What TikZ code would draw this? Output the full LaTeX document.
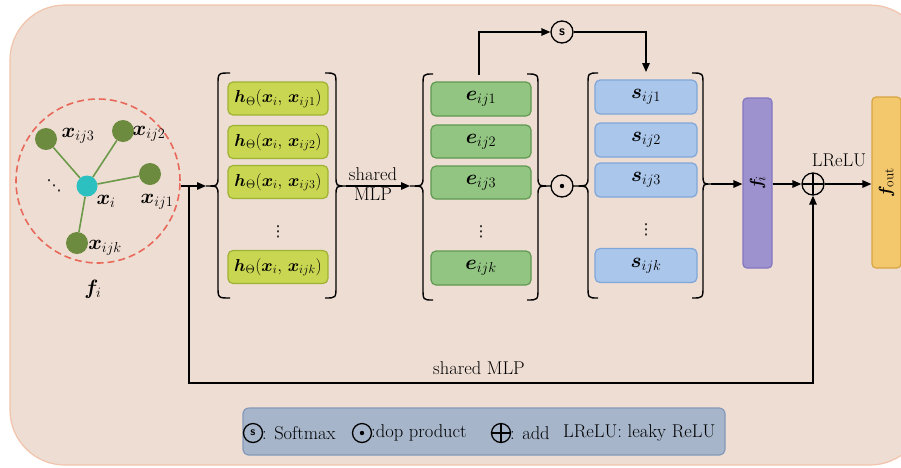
\documentclass[tikz,border=0pt]{standalone}
\usepackage{amsmath,bm,graphicx}
\usepackage{fontspec}
\newfontfamily\djv{DejaVu Sans}
\usetikzlibrary{arrows.meta,calc}
\definecolor{bgc}{HTML}{EEDDD3}
\definecolor{bgb}{HTML}{F2C4AC}
\definecolor{hfill}{HTML}{C8D651}
\definecolor{hdraw}{HTML}{A0B234}
\definecolor{efill}{HTML}{92C482}
\definecolor{edraw}{HTML}{5F9A50}
\definecolor{sfill}{HTML}{AAC6EA}
\definecolor{sdraw}{HTML}{7FA6D9}
\definecolor{fifill}{HTML}{9D92CE}
\definecolor{fidraw}{HTML}{8576C2}
\definecolor{fofill}{HTML}{F3C76C}
\definecolor{fodraw}{HTML}{D7A542}
\definecolor{lgfill}{HTML}{A6B5CA}
\definecolor{lgdraw}{HTML}{8499B9}
\definecolor{gnode}{HTML}{6D8B3E}
\definecolor{cnode}{HTML}{2CC0C0}
\definecolor{gedge}{HTML}{6C9A4A}
\definecolor{rdash}{HTML}{E8685A}
\newcommand\mybrace[6]{% xv, xt, xe, ytop, ymid, ybot
  \draw[brc] (#3,#4) .. controls (#1,#4) .. (#1,#4+12) -- (#1,#5-10)
    .. controls (#1,#5) .. (#2,#5) .. controls (#1,#5) .. (#1,#5+10)
    -- (#1,#6-12) .. controls (#1,#6) .. (#3,#6);}
\tikzset{
  brc/.style={line width=1.4pt},
  conn/.style={line width=1.4pt},
  arr/.style={conn,-{Triangle[length=9pt,width=7.5pt]}},
  txt/.style={font=\fontsize{18.5}{21}\selectfont, inner sep=0pt},
  mtxt/.style={font=\fontsize{20}{22}\selectfont, inner sep=0pt},
  dots/.style={font=\djv\fontsize{15}{17}\selectfont, inner sep=0pt},
  bx/.style={rounded corners=5pt, line width=1.2pt, minimum width=100pt, minimum height=33pt, font=\fontsize{19.5}{22}\selectfont},
  hbox/.style={bx, fill=hfill, draw=hdraw, font=\fontsize{17.5}{20}\selectfont},
  ebox/.style={bx, fill=efill, draw=edraw},
  sbox/.style={bx, fill=sfill, draw=sdraw, minimum width=102pt},
  gn/.style={circle, fill=gnode, minimum size=22pt, inner sep=0pt},
  opc/.style={circle, draw, line width=1.3pt, minimum size=22pt, inner sep=0pt},
  pluscirc/.style={opc, path picture={\draw[line width=1.3pt] (path picture bounding box.north) -- (path picture bounding box.south) (path picture bounding box.west) -- (path picture bounding box.east);}},
  dotcirc/.style={opc, path picture={\fill (path picture bounding box.center) circle (2.2pt);}},
  scirc/.style={opc, font=\sffamily\bfseries\fontsize{14}{14}\selectfont},
}
\begin{document}
\begin{tikzpicture}[x=1pt,y=-1pt]
\useasboundingbox (0,0) rectangle (901,467);
\fill[white] (0,0) rectangle (901,467);
\path[fill=bgc, draw=bgb, line width=1.2pt, rounded corners=55pt] (10,5) rectangle (925,465);

% graph
\node[circle, draw=rdash, dashed, dash pattern=on 7pt off 4pt, line width=1.6pt, minimum size=164pt] (circ) at (98,181) {};
\node[gn, fill=cnode, minimum size=21pt] (ni) at (87,186) {};
\node[gn] (n3) at (46,139) {};
\node[gn] (n2) at (123,131) {};
\node[gn] (n1) at (150,174) {};
\node[gn] (nk) at (77,243) {};
\foreach \n in {n1,n2,n3,nk} \draw[gedge, line width=1.6pt] (ni) -- (\n);
\node[mtxt] (l3) at (78,136) {$\bm x_{ij3}$};
\node[mtxt] (l2) at (149,134) {$\bm x_{ij2}$};
\node[mtxt] (l1) at (157,202) {$\bm x_{ij1}$};
\node[mtxt] (li) at (106,201) {$\bm x_{i}$};
\node[mtxt] (lk) at (105,248) {$\bm x_{ijk}$};
\node[dots] (ld) at (54,186) {⋱};
\node[mtxt] (lf) at (93,289) {$\bm f_{i}$};

% h column
\node[hbox] (h1) at (278,98.5) {$\bm h_\Theta(\bm x_i,\,\bm x_{ij1})$};
\node[hbox] (h2) at (278,142) {$\bm h_\Theta(\bm x_i,\,\bm x_{ij2})$};
\node[hbox] (h3) at (278,182) {$\bm h_\Theta(\bm x_i,\,\bm x_{ij3})$};
\node[dots] (hd) at (278,232) {⋮};
\node[hbox] (hk) at (278,267) {$\bm h_\Theta(\bm x_i,\,\bm x_{ijk})$};
\mybrace{218}{206}{230}{73}{186}{298}
\mybrace{336}{346}{325}{73}{186}{298}
\coordinate (hL) at (206,186);
\coordinate (hR) at (346,186);

% e column
\node[ebox, minimum height=34pt] (e1) at (481,99) {$\bm e_{ij1}$};
\node[ebox] (e2) at (481,141.5) {$\bm e_{ij2}$};
\node[ebox] (e3) at (481,182.5) {$\bm e_{ij3}$};
\node[dots] (ed) at (481,232) {⋮};
\node[ebox, minimum height=34pt] (ek) at (481,268) {$\bm e_{ijk}$};
\mybrace{423}{410}{433}{74}{186}{300}
\mybrace{538}{551}{527}{74}{186}{300}
\coordinate (eL) at (410,186);
\coordinate (etop) at (479,75);

% odot
\node[dotcirc] (od) at (562,186) {};

% s column
\node[sbox, minimum height=34pt] (s1) at (646,97) {$\bm s_{ij1}$};
\node[sbox, minimum height=34pt] (s2) at (646,140) {$\bm s_{ij2}$};
\node[sbox, minimum height=34pt] (s3) at (646,180) {$\bm s_{ij3}$};
\node[dots] (sd) at (646,230) {⋮};
\node[sbox, minimum height=34pt] (sk) at (646,265.5) {$\bm s_{ijk}$};
\mybrace{588}{573}{598}{73}{186}{298}
\mybrace{703}{711}{692}{73}{184}{298}
\coordinate (sR) at (711,184);
\coordinate (stop) at (646,72);

% softmax
\node[scirc] (smax) at (562,32) {s};
\draw[arr] (etop) |- (smax);
\draw[arr] (smax) -| (stop);

% shared MLP arrow
\draw[arr] (circ.east |- hL) -- (hL);
\draw[arr] (hR) -- (eL);
\node[txt, align=center] (sm) at (373,184) {shared\\[-1pt]MLP};

% f_i, plus, f_out
\node[rounded corners=4pt, fill=fifill, draw=fidraw, line width=1.2pt, minimum width=29pt, minimum height=170pt, inner sep=0pt, font=\fontsize{19}{21}\selectfont] (fi) at (757.5,183) {\rotatebox{90}{$\bm f_{\!i}$}};
\node[rounded corners=4pt, fill=fofill, draw=fodraw, line width=1.2pt, minimum width=29pt, minimum height=171pt, inner sep=0pt, font=\fontsize{19}{21}\selectfont] (fo) at (886.5,182.5) {\rotatebox{90}{$\bm f_{\mathrm{out}}$}};
\node[pluscirc] (pl) at (813,184) {};
\draw[arr] (sR) -- (sR -| fi.west);
\draw[arr] (fi.east |- pl) -- (pl);
\draw[arr] (pl) -- (pl -| fo.west);
\node[txt] (lr) at (839,160) {LReLU};

% skip connection
\coordinate (fb1) at (189,186);
\coordinate (fb2) at (189,383);
\draw[arr] (fb1) -- (fb2) -| (pl.south);
\node[txt] (sm2) at (479,368) {shared MLP};

% legend
\node[rounded corners=6pt, fill=lgfill, draw=lgdraw, line width=1.2pt, minimum width=482pt, minimum height=47pt] (lg) at (484,431.5) {};
\node[scirc, minimum size=19pt, font=\sffamily\bfseries\fontsize{12}{12}\selectfont] (ls) at (253,433) {s};
\node[txt, anchor=west] (lst) at (262,433) {: Softmax};
\node[dotcirc, minimum size=19pt] (lo) at (362,433) {};
\node[txt, anchor=west] (lot) at (371,433) {:dop product};
\node[pluscirc, minimum size=19pt] (lp) at (501,433) {};
\node[txt, anchor=west] (lpt) at (510,433) {: add};
\node[txt, anchor=west] (llt) at (563,433) {LReLU: leaky ReLU};
\end{tikzpicture}
\end{document}
